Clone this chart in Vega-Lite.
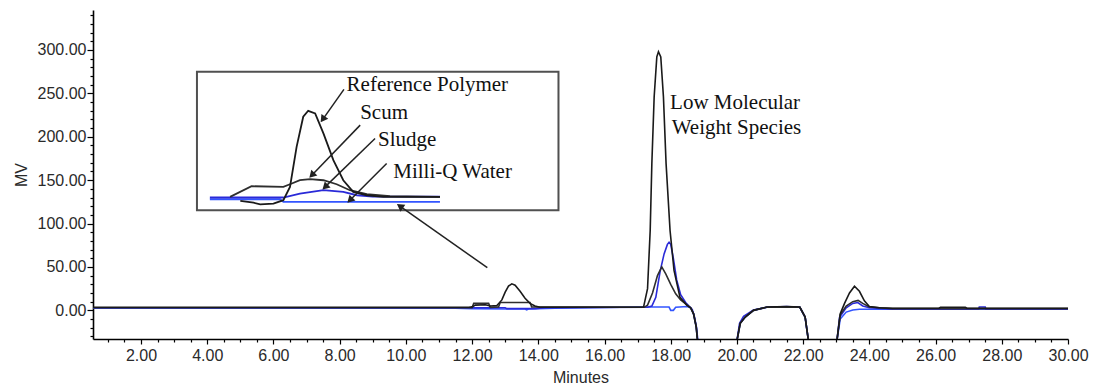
{
  "$schema": "https://vega.github.io/schema/vega-lite/v6.json",
  "width": 975,
  "height": 329,
  "autosize": {"type": "none"},
  "padding": {"left": 93, "top": 10, "right": 25, "bottom": 53},
  "background": "white",
  "config": {"view": {"stroke": null}},
  "datasets": {
    "main": [
      {"series": "Milli-Q Water", "minutes": 0.55, "mv": 2.5},
      {"series": "Milli-Q Water", "minutes": 11.5, "mv": 2.5},
      {"series": "Milli-Q Water", "minutes": 12.0, "mv": 2},
      {"series": "Milli-Q Water", "minutes": 13.0, "mv": 1.5},
      {"series": "Milli-Q Water", "minutes": 13.6, "mv": 1.5},
      {"series": "Milli-Q Water", "minutes": 13.65, "mv": 0.5},
      {"series": "Milli-Q Water", "minutes": 13.7, "mv": 1.5},
      {"series": "Milli-Q Water", "minutes": 14.5, "mv": 2.5},
      {"series": "Milli-Q Water", "minutes": 17.0, "mv": 3.8},
      {"series": "Milli-Q Water", "minutes": 17.95, "mv": 3.8},
      {"series": "Milli-Q Water", "minutes": 18.0, "mv": 0},
      {"series": "Milli-Q Water", "minutes": 18.08, "mv": 0},
      {"series": "Milli-Q Water", "minutes": 18.15, "mv": 3.5},
      {"series": "Milli-Q Water", "minutes": 18.5, "mv": 4.5},
      {"series": "Milli-Q Water", "minutes": 18.6, "mv": 3},
      {"series": "Milli-Q Water", "minutes": 18.69, "mv": -4},
      {"series": "Milli-Q Water", "minutes": 18.77, "mv": -19},
      {"series": "Milli-Q Water", "minutes": 18.81, "mv": -35},
      {"series": "Milli-Q Water", "minutes": 18.9, "mv": -60},
      {"series": "Milli-Q Water", "minutes": 19.95, "mv": -60},
      {"series": "Milli-Q Water", "minutes": 20.0, "mv": -35},
      {"series": "Milli-Q Water", "minutes": 20.1, "mv": -15},
      {"series": "Milli-Q Water", "minutes": 20.25, "mv": -7.7},
      {"series": "Milli-Q Water", "minutes": 20.5, "mv": 0},
      {"series": "Milli-Q Water", "minutes": 20.9, "mv": 3.5},
      {"series": "Milli-Q Water", "minutes": 21.5, "mv": 4.2},
      {"series": "Milli-Q Water", "minutes": 21.9, "mv": 3.5},
      {"series": "Milli-Q Water", "minutes": 22.06, "mv": -7.7},
      {"series": "Milli-Q Water", "minutes": 22.16, "mv": -35},
      {"series": "Milli-Q Water", "minutes": 22.25, "mv": -60},
      {"series": "Milli-Q Water", "minutes": 22.95, "mv": -60},
      {"series": "Milli-Q Water", "minutes": 23.02, "mv": -35},
      {"series": "Milli-Q Water", "minutes": 23.12, "mv": -10},
      {"series": "Milli-Q Water", "minutes": 23.3, "mv": -2},
      {"series": "Milli-Q Water", "minutes": 23.5, "mv": 0.5},
      {"series": "Milli-Q Water", "minutes": 23.7, "mv": 1.2},
      {"series": "Milli-Q Water", "minutes": 30, "mv": 1.2},

      {"series": "Sludge", "minutes": 0.55, "mv": 3},
      {"series": "Sludge", "minutes": 13.0, "mv": 3},
      {"series": "Sludge", "minutes": 13.05, "mv": 2},
      {"series": "Sludge", "minutes": 13.9, "mv": 2},
      {"series": "Sludge", "minutes": 14.2, "mv": 3},
      {"series": "Sludge", "minutes": 17.3, "mv": 3.5},
      {"series": "Sludge", "minutes": 17.43, "mv": 5},
      {"series": "Sludge", "minutes": 17.55, "mv": 15},
      {"series": "Sludge", "minutes": 17.68, "mv": 45},
      {"series": "Sludge", "minutes": 17.8, "mv": 65},
      {"series": "Sludge", "minutes": 17.9, "mv": 76},
      {"series": "Sludge", "minutes": 17.95, "mv": 78.5},
      {"series": "Sludge", "minutes": 18.0, "mv": 76},
      {"series": "Sludge", "minutes": 18.08, "mv": 60},
      {"series": "Sludge", "minutes": 18.18, "mv": 35},
      {"series": "Sludge", "minutes": 18.3, "mv": 18},
      {"series": "Sludge", "minutes": 18.45, "mv": 9},
      {"series": "Sludge", "minutes": 18.55, "mv": 5},
      {"series": "Sludge", "minutes": 18.65, "mv": 1},
      {"series": "Sludge", "minutes": 18.72, "mv": -8},
      {"series": "Sludge", "minutes": 18.78, "mv": -20},
      {"series": "Sludge", "minutes": 18.82, "mv": -35},
      {"series": "Sludge", "minutes": 18.9, "mv": -60},
      {"series": "Sludge", "minutes": 19.95, "mv": -60},
      {"series": "Sludge", "minutes": 20.0, "mv": -35},
      {"series": "Sludge", "minutes": 20.08, "mv": -15},
      {"series": "Sludge", "minutes": 20.2, "mv": -7},
      {"series": "Sludge", "minutes": 20.5, "mv": 0.5},
      {"series": "Sludge", "minutes": 20.9, "mv": 3.5},
      {"series": "Sludge", "minutes": 21.5, "mv": 4.5},
      {"series": "Sludge", "minutes": 21.9, "mv": 3.5},
      {"series": "Sludge", "minutes": 22.06, "mv": -7.7},
      {"series": "Sludge", "minutes": 22.16, "mv": -35},
      {"series": "Sludge", "minutes": 22.25, "mv": -60},
      {"series": "Sludge", "minutes": 22.95, "mv": -60},
      {"series": "Sludge", "minutes": 23.02, "mv": -35},
      {"series": "Sludge", "minutes": 23.1, "mv": -8},
      {"series": "Sludge", "minutes": 23.3, "mv": 3},
      {"series": "Sludge", "minutes": 23.5, "mv": 8},
      {"series": "Sludge", "minutes": 23.65, "mv": 9},
      {"series": "Sludge", "minutes": 23.8, "mv": 5},
      {"series": "Sludge", "minutes": 24.0, "mv": 3},
      {"series": "Sludge", "minutes": 24.7, "mv": 1.2},
      {"series": "Sludge", "minutes": 27.3, "mv": 1.2},
      {"series": "Sludge", "minutes": 27.32, "mv": 3.8},
      {"series": "Sludge", "minutes": 27.5, "mv": 3.8},
      {"series": "Sludge", "minutes": 27.52, "mv": 1.2},
      {"series": "Sludge", "minutes": 30, "mv": 1.2},

      {"series": "Scum", "minutes": 0.55, "mv": 3},
      {"series": "Scum", "minutes": 12.0, "mv": 3},
      {"series": "Scum", "minutes": 12.05, "mv": 8},
      {"series": "Scum", "minutes": 12.5, "mv": 8},
      {"series": "Scum", "minutes": 12.55, "mv": 3.5},
      {"series": "Scum", "minutes": 12.8, "mv": 4},
      {"series": "Scum", "minutes": 12.85, "mv": 9},
      {"series": "Scum", "minutes": 13.75, "mv": 9},
      {"series": "Scum", "minutes": 13.8, "mv": 4},
      {"series": "Scum", "minutes": 17.2, "mv": 3.5},
      {"series": "Scum", "minutes": 17.3, "mv": 6},
      {"series": "Scum", "minutes": 17.45, "mv": 20},
      {"series": "Scum", "minutes": 17.6, "mv": 40},
      {"series": "Scum", "minutes": 17.73, "mv": 50},
      {"series": "Scum", "minutes": 17.85, "mv": 42},
      {"series": "Scum", "minutes": 18.0, "mv": 30},
      {"series": "Scum", "minutes": 18.15, "mv": 19},
      {"series": "Scum", "minutes": 18.3, "mv": 12},
      {"series": "Scum", "minutes": 18.5, "mv": 6},
      {"series": "Scum", "minutes": 18.6, "mv": 3},
      {"series": "Scum", "minutes": 18.69, "mv": -4},
      {"series": "Scum", "minutes": 18.77, "mv": -19},
      {"series": "Scum", "minutes": 18.81, "mv": -35},
      {"series": "Scum", "minutes": 18.9, "mv": -60},
      {"series": "Scum", "minutes": 19.95, "mv": -60},
      {"series": "Scum", "minutes": 20.0, "mv": -35},
      {"series": "Scum", "minutes": 20.1, "mv": -15},
      {"series": "Scum", "minutes": 20.25, "mv": -7.7},
      {"series": "Scum", "minutes": 20.5, "mv": 0},
      {"series": "Scum", "minutes": 20.9, "mv": 3.5},
      {"series": "Scum", "minutes": 21.5, "mv": 4},
      {"series": "Scum", "minutes": 21.9, "mv": 3.5},
      {"series": "Scum", "minutes": 22.06, "mv": -7.7},
      {"series": "Scum", "minutes": 22.16, "mv": -35},
      {"series": "Scum", "minutes": 22.25, "mv": -60},
      {"series": "Scum", "minutes": 22.95, "mv": -60},
      {"series": "Scum", "minutes": 23.02, "mv": -35},
      {"series": "Scum", "minutes": 23.12, "mv": -5},
      {"series": "Scum", "minutes": 23.3, "mv": 5},
      {"series": "Scum", "minutes": 23.5, "mv": 10},
      {"series": "Scum", "minutes": 23.66, "mv": 11.5},
      {"series": "Scum", "minutes": 23.8, "mv": 8},
      {"series": "Scum", "minutes": 24.0, "mv": 4},
      {"series": "Scum", "minutes": 24.3, "mv": 3},
      {"series": "Scum", "minutes": 24.7, "mv": 2},
      {"series": "Scum", "minutes": 30, "mv": 2},

      {"series": "Reference Polymer", "minutes": 0.55, "mv": 3.5},
      {"series": "Reference Polymer", "minutes": 11.9, "mv": 3.5},
      {"series": "Reference Polymer", "minutes": 12.0, "mv": 4},
      {"series": "Reference Polymer", "minutes": 12.1, "mv": 6},
      {"series": "Reference Polymer", "minutes": 12.4, "mv": 6.5},
      {"series": "Reference Polymer", "minutes": 12.55, "mv": 5},
      {"series": "Reference Polymer", "minutes": 12.75, "mv": 5.5},
      {"series": "Reference Polymer", "minutes": 12.9, "mv": 12},
      {"series": "Reference Polymer", "minutes": 13.0, "mv": 21},
      {"series": "Reference Polymer", "minutes": 13.1, "mv": 28},
      {"series": "Reference Polymer", "minutes": 13.2, "mv": 30.5},
      {"series": "Reference Polymer", "minutes": 13.3, "mv": 29},
      {"series": "Reference Polymer", "minutes": 13.45, "mv": 22},
      {"series": "Reference Polymer", "minutes": 13.6, "mv": 14},
      {"series": "Reference Polymer", "minutes": 13.75, "mv": 8},
      {"series": "Reference Polymer", "minutes": 13.9, "mv": 5},
      {"series": "Reference Polymer", "minutes": 14.05, "mv": 3.5},
      {"series": "Reference Polymer", "minutes": 17.18, "mv": 3.8},
      {"series": "Reference Polymer", "minutes": 17.3, "mv": 25},
      {"series": "Reference Polymer", "minutes": 17.38, "mv": 92},
      {"series": "Reference Polymer", "minutes": 17.43, "mv": 169},
      {"series": "Reference Polymer", "minutes": 17.5, "mv": 246},
      {"series": "Reference Polymer", "minutes": 17.58, "mv": 292},
      {"series": "Reference Polymer", "minutes": 17.63, "mv": 298},
      {"series": "Reference Polymer", "minutes": 17.7, "mv": 292},
      {"series": "Reference Polymer", "minutes": 17.78, "mv": 246},
      {"series": "Reference Polymer", "minutes": 17.86, "mv": 169},
      {"series": "Reference Polymer", "minutes": 17.98, "mv": 92},
      {"series": "Reference Polymer", "minutes": 18.1, "mv": 46},
      {"series": "Reference Polymer", "minutes": 18.28, "mv": 15},
      {"series": "Reference Polymer", "minutes": 18.49, "mv": 5.8},
      {"series": "Reference Polymer", "minutes": 18.6, "mv": 3},
      {"series": "Reference Polymer", "minutes": 18.69, "mv": -4},
      {"series": "Reference Polymer", "minutes": 18.77, "mv": -19},
      {"series": "Reference Polymer", "minutes": 18.81, "mv": -35},
      {"series": "Reference Polymer", "minutes": 18.9, "mv": -60},
      {"series": "Reference Polymer", "minutes": 19.95, "mv": -60},
      {"series": "Reference Polymer", "minutes": 20.0, "mv": -35},
      {"series": "Reference Polymer", "minutes": 20.1, "mv": -15},
      {"series": "Reference Polymer", "minutes": 20.25, "mv": -7.7},
      {"series": "Reference Polymer", "minutes": 20.5, "mv": 0},
      {"series": "Reference Polymer", "minutes": 20.9, "mv": 3.8},
      {"series": "Reference Polymer", "minutes": 21.5, "mv": 4.5},
      {"series": "Reference Polymer", "minutes": 21.9, "mv": 3.8},
      {"series": "Reference Polymer", "minutes": 22.06, "mv": -7.7},
      {"series": "Reference Polymer", "minutes": 22.16, "mv": -35},
      {"series": "Reference Polymer", "minutes": 22.25, "mv": -60},
      {"series": "Reference Polymer", "minutes": 22.95, "mv": -60},
      {"series": "Reference Polymer", "minutes": 23.02, "mv": -35},
      {"series": "Reference Polymer", "minutes": 23.12, "mv": -4},
      {"series": "Reference Polymer", "minutes": 23.25, "mv": 8},
      {"series": "Reference Polymer", "minutes": 23.4, "mv": 20},
      {"series": "Reference Polymer", "minutes": 23.55, "mv": 27.7},
      {"series": "Reference Polymer", "minutes": 23.7, "mv": 22},
      {"series": "Reference Polymer", "minutes": 23.85, "mv": 11},
      {"series": "Reference Polymer", "minutes": 24.0, "mv": 4.5},
      {"series": "Reference Polymer", "minutes": 24.3, "mv": 3},
      {"series": "Reference Polymer", "minutes": 24.7, "mv": 2.5},
      {"series": "Reference Polymer", "minutes": 26.1, "mv": 2.5},
      {"series": "Reference Polymer", "minutes": 26.15, "mv": 3.5},
      {"series": "Reference Polymer", "minutes": 26.9, "mv": 3.5},
      {"series": "Reference Polymer", "minutes": 26.95, "mv": 2.5},
      {"series": "Reference Polymer", "minutes": 30, "mv": 2.5}
    ],
    "inset": [
      {"series": "Milli-Q Water", "minutes": 4.08, "mv": 128},
      {"series": "Milli-Q Water", "minutes": 6.2, "mv": 128},
      {"series": "Milli-Q Water", "minutes": 6.3, "mv": 125},
      {"series": "Milli-Q Water", "minutes": 11.03, "mv": 125},
      {"series": "Sludge", "minutes": 4.08, "mv": 130},
      {"series": "Sludge", "minutes": 6.3, "mv": 130},
      {"series": "Sludge", "minutes": 6.8, "mv": 134.6},
      {"series": "Sludge", "minutes": 7.51, "mv": 138.4},
      {"series": "Sludge", "minutes": 8.11, "mv": 136.4},
      {"series": "Sludge", "minutes": 8.52, "mv": 132.6},
      {"series": "Sludge", "minutes": 9.0, "mv": 131},
      {"series": "Sludge", "minutes": 11.03, "mv": 131},
      {"series": "Scum", "minutes": 4.69, "mv": 130.7},
      {"series": "Scum", "minutes": 5.34, "mv": 143.0},
      {"series": "Scum", "minutes": 6.3, "mv": 142.2},
      {"series": "Scum", "minutes": 6.5, "mv": 145.3},
      {"series": "Scum", "minutes": 6.8, "mv": 149.9},
      {"series": "Scum", "minutes": 7.11, "mv": 151.1},
      {"series": "Scum", "minutes": 7.51, "mv": 149.9},
      {"series": "Scum", "minutes": 7.91, "mv": 145.3},
      {"series": "Scum", "minutes": 8.31, "mv": 138.4},
      {"series": "Scum", "minutes": 8.82, "mv": 133.8},
      {"series": "Scum", "minutes": 9.52, "mv": 131.5},
      {"series": "Scum", "minutes": 11.03, "mv": 130.7},
      {"series": "Reference Polymer", "minutes": 5.0, "mv": 126},
      {"series": "Reference Polymer", "minutes": 5.4, "mv": 124},
      {"series": "Reference Polymer", "minutes": 5.6, "mv": 122},
      {"series": "Reference Polymer", "minutes": 6.0, "mv": 123},
      {"series": "Reference Polymer", "minutes": 6.3, "mv": 126.9},
      {"series": "Reference Polymer", "minutes": 6.5, "mv": 142.2},
      {"series": "Reference Polymer", "minutes": 6.7, "mv": 188.4},
      {"series": "Reference Polymer", "minutes": 6.9, "mv": 223.0},
      {"series": "Reference Polymer", "minutes": 7.05, "mv": 229.9},
      {"series": "Reference Polymer", "minutes": 7.26, "mv": 226.9},
      {"series": "Reference Polymer", "minutes": 7.51, "mv": 203.8},
      {"series": "Reference Polymer", "minutes": 7.81, "mv": 173.0},
      {"series": "Reference Polymer", "minutes": 8.11, "mv": 149.9},
      {"series": "Reference Polymer", "minutes": 8.41, "mv": 136.4},
      {"series": "Reference Polymer", "minutes": 8.82, "mv": 132.6},
      {"series": "Reference Polymer", "minutes": 9.32, "mv": 130.7},
      {"series": "Reference Polymer", "minutes": 11.03, "mv": 130.7}
    ],
    "box": [
      {"minutes": 3.69, "minutes2": 14.61, "mv": 115.3, "mv2": 274.9}
    ],
    "arrows": [
      {"label": "Reference Polymer", "minutes": 8.13, "mv": 254.6, "minutes2": 7.49, "mv2": 220.0},
      {"label": "Scum", "minutes": 8.62, "mv": 213.4, "minutes2": 7.16, "mv2": 155.7},
      {"label": "Sludge", "minutes": 9.07, "mv": 198.0, "minutes2": 7.56, "mv2": 142.2},
      {"label": "Milli-Q Water", "minutes": 9.42, "mv": 169.2, "minutes2": 8.31, "mv2": 126.9},
      {"label": "zoom", "minutes": 12.46, "mv": 49.2, "minutes2": 9.82, "mv2": 120.0}
    ],
    "labels": [
      {"text": "Reference Polymer", "minutes": 8.21, "mv": 259.5},
      {"text": "Scum", "minutes": 8.62, "mv": 226.9},
      {"text": "Sludge", "minutes": 9.16, "mv": 196.1},
      {"text": "Milli-Q Water", "minutes": 9.62, "mv": 159.5},
      {"text": "Low Molecular", "minutes": 17.98, "mv": 238.4},
      {"text": "Weight Species", "minutes": 18.03, "mv": 209.6}
    ]
  },
  "layer": [
    {
      "data": {"name": "main"},
      "mark": {"type": "line", "strokeWidth": 1.6, "clip": true, "interpolate": "linear"},
      "encoding": {
        "x": {
          "field": "minutes", "type": "quantitative",
          "scale": {"domain": [0.55, 30], "nice": false, "zero": false},
          "axis": {
            "title": "Minutes",
            "values": [1,1.5,2,2.5,3,3.5,4,4.5,5,5.5,6,6.5,7,7.5,8,8.5,9,9.5,10,10.5,11,11.5,12,12.5,13,13.5,14,14.5,15,15.5,16,16.5,17,17.5,18,18.5,19,19.5,20,20.5,21,21.5,22,22.5,23,23.5,24,24.5,25,25.5,26,26.5,27,27.5,28,28.5,29,29.5,30],
            "tickCount": 500,
            "labelExpr": "datum.value % 2 == 0 ? format(datum.value, '.2f') : ''",
            "tickSize": {"condition": {"test": "datum.value % 2 == 0", "value": 5}, "value": 3},
            "tickColor": "#000", "tickWidth": 1.2,
            "domainColor": "#000", "domainWidth": 1.6,
            "labelFont": "Liberation Sans", "labelFontSize": 16, "labelColor": "#2a2a2a",
            "labelPadding": 3, "labelOverlap": false, "labelFlush": false, "labelBound": false,
            "grid": false,
            "titleFont": "Liberation Sans", "titleFontSize": 16, "titleFontWeight": "normal", "titleColor": "#2a2a2a", "titlePadding": 6
          }
        },
        "y": {
          "field": "mv", "type": "quantitative",
          "scale": {"domain": [-33, 346], "nice": false, "zero": false},
          "axis": {
            "title": "MV",
            "values": [-30,-20,-10,0,10,20,30,40,50,60,70,80,90,100,110,120,130,140,150,160,170,180,190,200,210,220,230,240,250,260,270,280,290,300,310,320,330,340],
            "tickCount": 500,
            "labelExpr": "datum.value % 50 == 0 && datum.value >= 0 ? format(datum.value, '.2f') : ''",
            "tickSize": {"condition": {"test": "datum.value % 50 == 0", "value": 6}, "value": 3},
            "tickColor": "#000", "tickWidth": 1.2,
            "domainColor": "#000", "domainWidth": 1.6,
            "labelFont": "Liberation Sans", "labelFontSize": 16, "labelColor": "#2a2a2a",
            "labelPadding": 1, "labelOverlap": false, "labelBound": false, "labelFlush": false,
            "grid": false,
            "titleFont": "Liberation Sans", "titleFontSize": 16, "titleFontWeight": "normal", "titleColor": "#2a2a2a", "titlePadding": 8
          }
        },
        "color": {
          "field": "series", "type": "nominal",
          "scale": {"domain": ["Reference Polymer", "Scum", "Sludge", "Milli-Q Water"], "range": ["#1a1a1a", "#2e2e2e", "#2a2ad8", "#3355ff"]},
          "legend": null
        }
      }
    },
    {
      "data": {"name": "box"},
      "mark": {"type": "rect", "fill": "white", "stroke": "#505050", "strokeWidth": 2},
      "encoding": {
        "x": {"field": "minutes", "type": "quantitative"},
        "x2": {"field": "minutes2"},
        "y": {"field": "mv", "type": "quantitative"},
        "y2": {"field": "mv2"}
      }
    },
    {
      "data": {"name": "inset"},
      "mark": {"type": "line", "strokeWidth": 1.8},
      "encoding": {
        "x": {"field": "minutes", "type": "quantitative"},
        "y": {"field": "mv", "type": "quantitative"},
        "color": {"field": "series", "type": "nominal", "legend": null}
      }
    },
    {
      "data": {"name": "arrows"},
      "mark": {"type": "rule", "stroke": "#222", "strokeWidth": 1.5},
      "encoding": {
        "x": {"field": "minutes", "type": "quantitative"},
        "y": {"field": "mv", "type": "quantitative"},
        "x2": {"field": "minutes2"},
        "y2": {"field": "mv2"}
      }
    },
    {
      "data": {"name": "arrows"},
      "transform": [
        {"calculate": "atan2((datum.minutes2 - datum.minutes) * 33.1, (datum.mv2 - datum.mv) * 0.868) * 180 / PI", "as": "ang"}
      ],
      "mark": {"type": "point", "shape": "triangle-up", "filled": true, "color": "#222", "opacity": 1, "size": 70},
      "encoding": {
        "x": {"field": "minutes2", "type": "quantitative"},
        "y": {"field": "mv2", "type": "quantitative"},
        "angle": {"field": "ang", "type": "quantitative", "scale": null}
      }
    },
    {
      "data": {"name": "labels"},
      "mark": {"type": "text", "align": "left", "baseline": "middle", "font": "Liberation Serif", "fontSize": 21, "color": "#111"},
      "encoding": {
        "x": {"field": "minutes", "type": "quantitative"},
        "y": {"field": "mv", "type": "quantitative"},
        "text": {"field": "text"}
      }
    }
  ]
}
